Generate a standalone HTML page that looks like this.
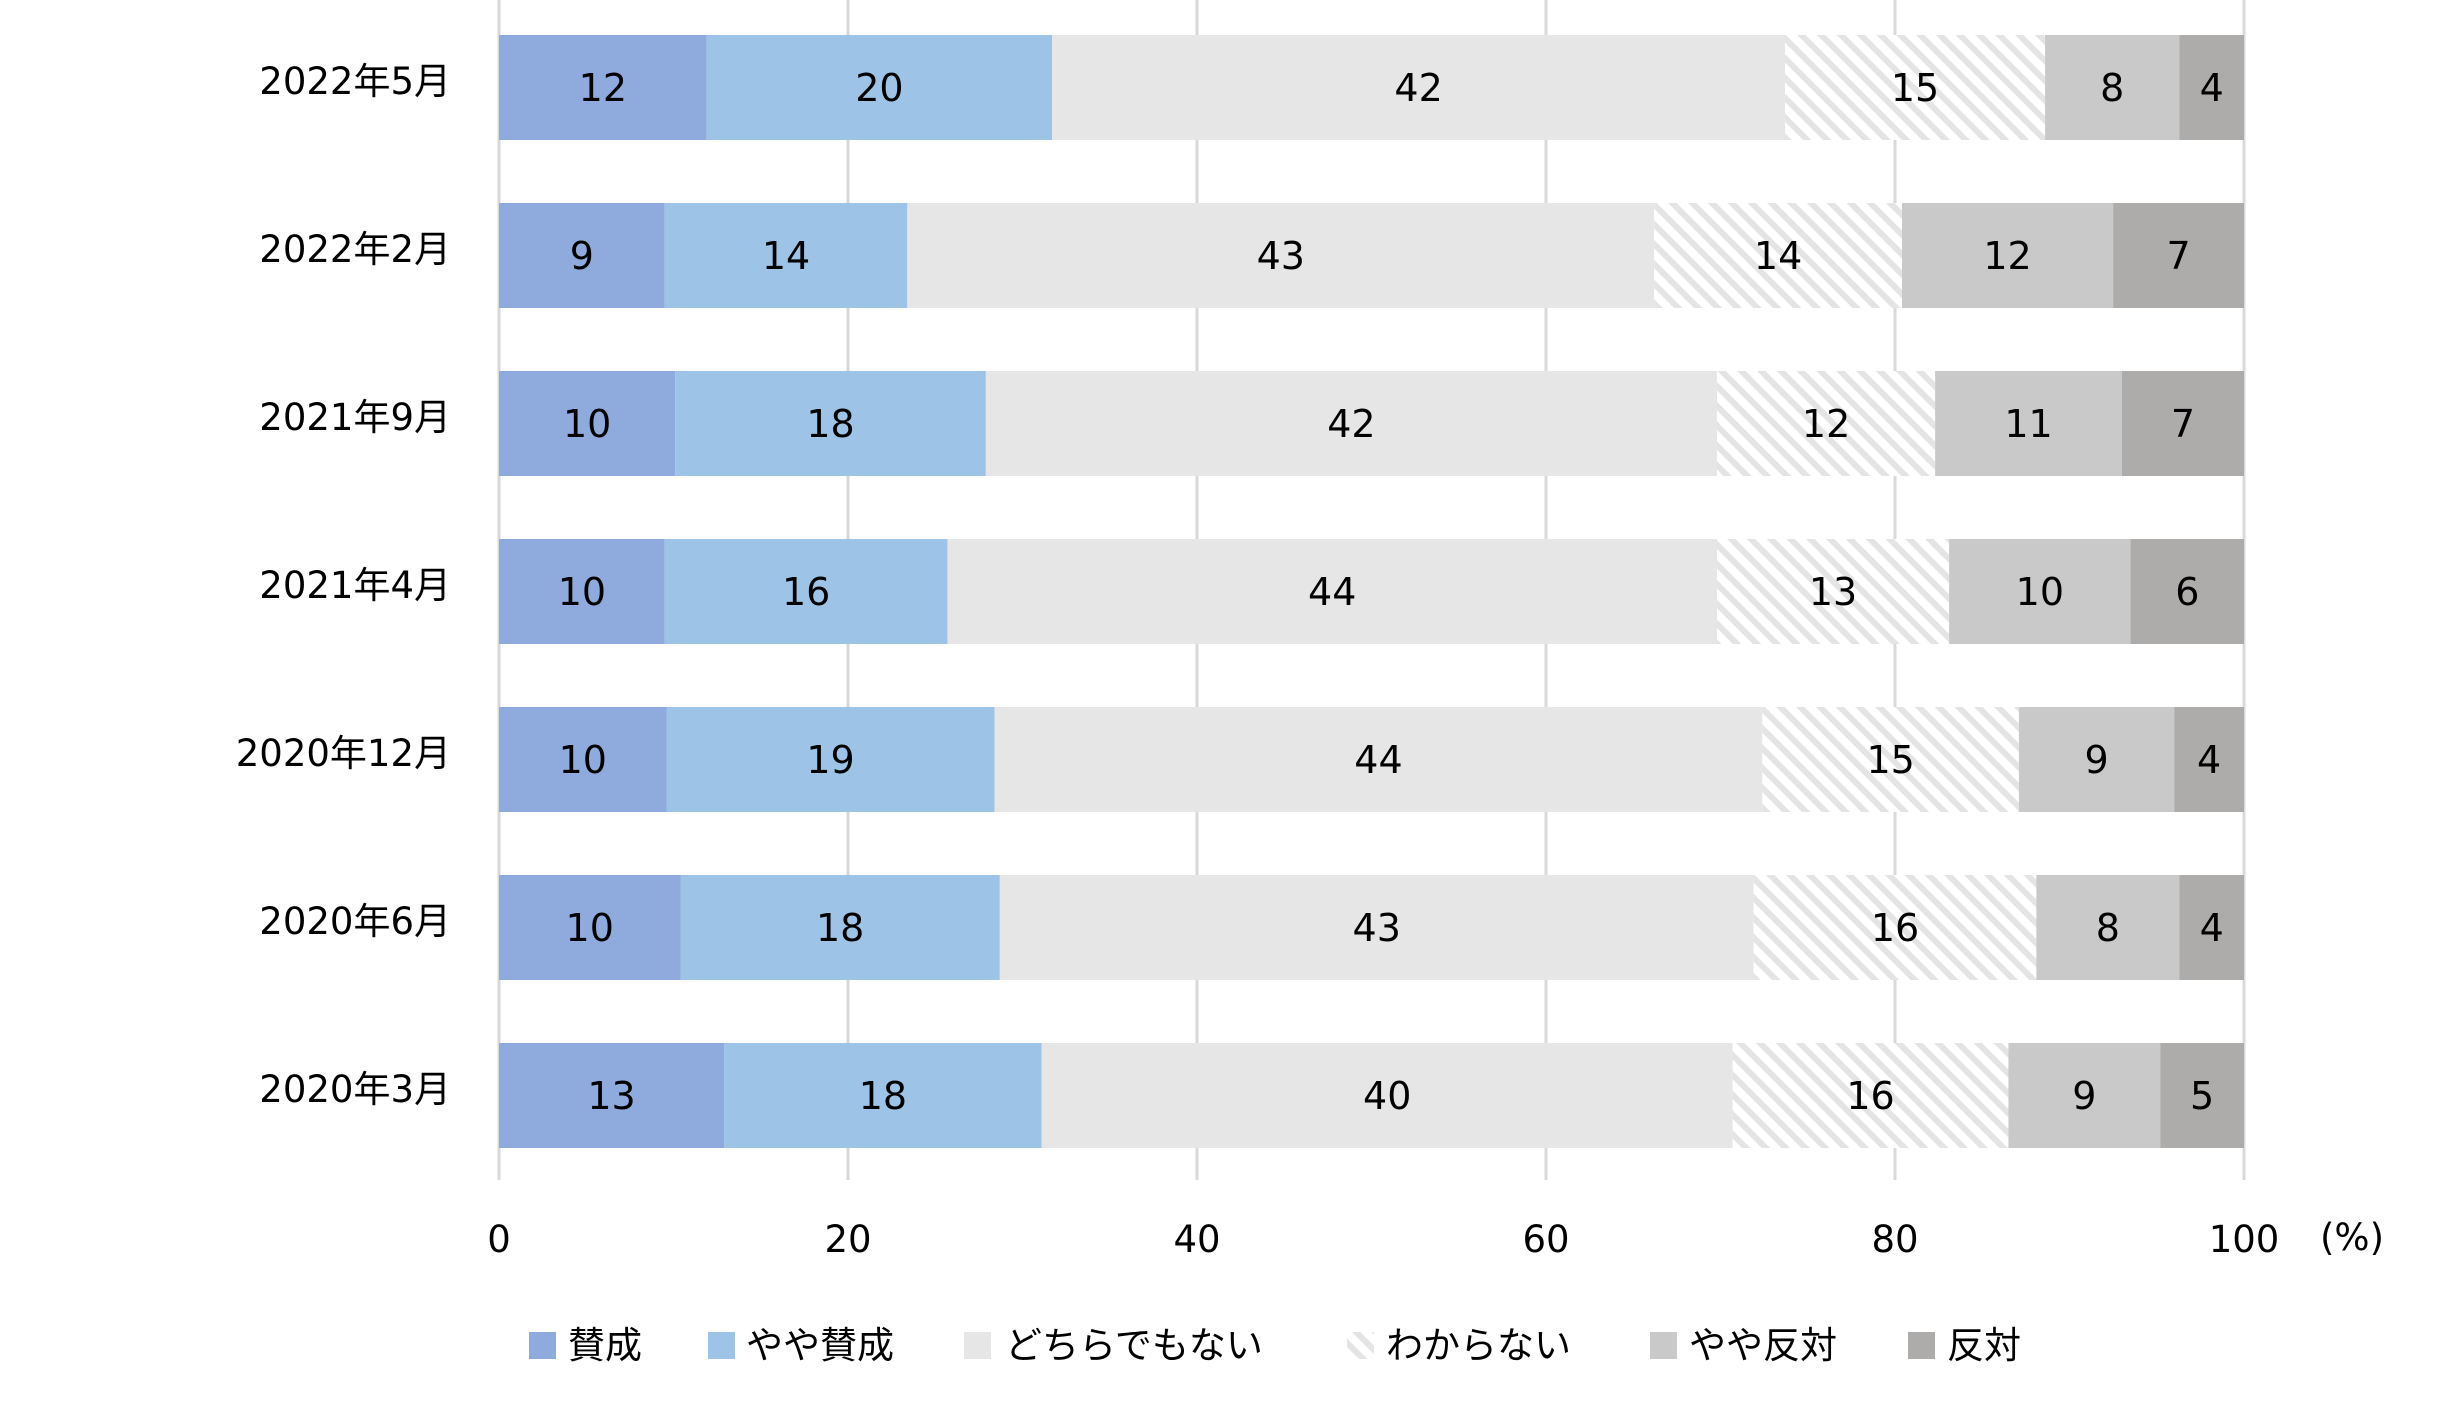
<!DOCTYPE html>
<html><head><meta charset="utf-8"><style>
html,body{margin:0;padding:0;background:#fff;}
svg text{font-family:"DejaVu Sans","Noto Sans CJK JP",sans-serif;fill:#000;}
</style></head><body>
<svg width="2462" height="1415" viewBox="0 0 2462 1415" xmlns="http://www.w3.org/2000/svg">
<defs>
<pattern id="h" patternUnits="userSpaceOnUse" width="14" height="14" patternTransform="rotate(-45)">
<rect width="14" height="14" fill="#fff"/><rect width="6" height="14" fill="#e4e4e4"/>
</pattern>
</defs>
<g stroke="#d9d9d9" stroke-width="3">
<line x1="499" y1="0" x2="499" y2="1180"/>
<line x1="848" y1="0" x2="848" y2="1180"/>
<line x1="1197" y1="0" x2="1197" y2="1180"/>
<line x1="1546" y1="0" x2="1546" y2="1180"/>
<line x1="1895" y1="0" x2="1895" y2="1180"/>
<line x1="2244" y1="0" x2="2244" y2="1180"/>
</g>
<g id="bars"></g>
<g font-size="37" text-anchor="middle">
<text x="499" y="1252">0</text><text x="848" y="1252">20</text><text x="1197" y="1252">40</text>
<text x="1546" y="1252">60</text><text x="1895" y="1252">80</text><text x="2244" y="1252">100</text>
<text x="2352" y="1250">(%)</text>
</g>
<g font-size="37">
<rect x="529" y="1332" width="27" height="27" fill="#8faadc"/><text x="568" y="1358">賛成</text>
<rect x="708" y="1332" width="27" height="27" fill="#9dc3e6"/><text x="746" y="1358">やや賛成</text>
<rect x="964" y="1332" width="27" height="27" fill="#e7e6e6"/><text x="1005" y="1358">どちらでもない</text>
<rect x="1347" y="1332" width="27" height="27" fill="url(#h)"/><text x="1386" y="1358">わからない</text>
<rect x="1650" y="1332" width="27" height="27" fill="#c9c9c9"/><text x="1689" y="1358">やや反対</text>
<rect x="1908" y="1332" width="27" height="27" fill="#aeabab"/><text x="1947" y="1358">反対</text>
</g>
</svg>
<script>
var rows=[["2022年5月",[11.9,31.7,73.7,88.6,96.3],[12,20,42,15,8,4]],
["2022年2月",[9.5,23.4,66.2,80.4,92.5],[9,14,43,14,12,7]],
["2021年9月",[10.1,27.9,69.8,82.3,93.0],[10,18,42,12,11,7]],
["2021年4月",[9.5,25.7,69.8,83.1,93.5],[10,16,44,13,10,6]],
["2020年12月",[9.6,28.4,72.4,87.1,96.0],[10,19,44,15,9,4]],
["2020年6月",[10.4,28.7,71.9,88.1,96.3],[10,18,43,16,8,4]],
["2020年3月",[12.9,31.1,70.7,86.5,95.2],[13,18,40,16,9,5]]];
var cols=["#8faadc","#9dc3e6","#e7e6e6","url(#h)","#c9c9c9","#aeabab"];
var s="",x0=499,W=1745;
rows.forEach(function(r,i){var y=35+168*i;var c=[0].concat(r[1]).concat([100]);
s+='<text x="451" y="'+(y+59)+'" font-size="37" text-anchor="end">'+r[0]+'</text>';
for(var k=0;k<6;k++){var a=x0+c[k]*W/100,b=x0+c[k+1]*W/100;
s+='<rect x="'+a+'" y="'+y+'" width="'+(b-a)+'" height="105" fill="'+cols[k]+'"/>';
s+='<text x="'+((a+b)/2)+'" y="'+(y+66)+'" font-size="38" text-anchor="middle">'+r[2][k]+'</text>';}
});
document.getElementById("bars").innerHTML=s;
</script>
</body></html>
